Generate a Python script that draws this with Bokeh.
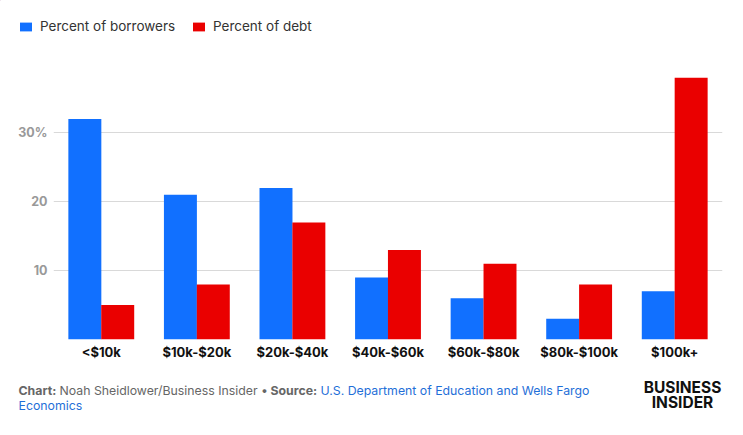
from bokeh.plotting import figure
from bokeh.models import ColumnDataSource, FactorRange, Range1d, FixedTicker, Label, Legend, LegendItem
from bokeh.layouts import column
from bokeh.transform import dodge
from bokeh.embed import file_html
from bokeh.resources import INLINE

categories = ["<$10k", "$10k-$20k", "$20k-$40k", "$40k-$60k", "$60k-$80k", "$80k-$100k", "$100k+"]
borrowers = [32, 21, 22, 9, 6, 3, 7]
debt = [5, 8, 17, 13, 11, 8, 38]
y_ticks = [0, 10, 20, 30]
y_tick_labels = {0: "", 10: "10", 20: "20", 30: "30%"}
series_names = ["Percent of borrowers", "Percent of debt"]

BLUE = "#1170FF"
RED = "#EA0000"
FONT = "Inter"
W = 735

def blank(height):
    f = figure(width=W, height=height, x_range=Range1d(0, W), y_range=Range1d(height, 0),
               x_axis_type=None, y_axis_type=None, output_backend="svg", toolbar_location=None,
               min_border=0, min_border_left=0, min_border_right=0, min_border_top=0,
               min_border_bottom=0, frame_align=False)
    f.outline_line_color = None
    f.grid.visible = False
    return f

# ---- header with legend
H_HEAD = 50
head = blank(H_HEAD)
d1 = head.vbar(x=[-500], top=[-500], bottom=[-500], width=1, color=BLUE, line_color=None)
d2 = head.vbar(x=[-500], top=[-500], bottom=[-500], width=1, color=RED, line_color=None)
for rend, lab, xloc in [(d1, series_names[0], 18), (d2, series_names[1], 191)]:
    lg = Legend(items=[LegendItem(label=lab, renderers=[rend])], location=(xloc, 16),
                orientation="horizontal", glyph_width=15, glyph_height=11,
                label_height=11, label_standoff=7, padding=0, margin=0, spacing=0,
                border_line_color=None, background_fill_alpha=0,
                label_text_font=FONT, label_text_font_size="13.5px",
                label_text_color="#333333", label_text_baseline="middle")
    head.add_layout(lg, "center")

# ---- main chart
src = ColumnDataSource(dict(cat=categories, borrowers=borrowers, debt=debt))
p = figure(width=W, height=320, x_range=FactorRange(*categories, range_padding=0),
           y_range=Range1d(0, 40.5), output_backend="svg", toolbar_location=None,
           min_border_left=53, min_border_right=W - 722, min_border_top=10, min_border_bottom=31,
           frame_align=False)
p.outline_line_color = None

p.vbar(x=dodge("cat", -0.172, range=p.x_range), top="borrowers", width=0.345,
       source=src, color=BLUE, line_color=None)
p.vbar(x=dodge("cat", 0.172, range=p.x_range), top="debt", width=0.345,
       source=src, color=RED, line_color=None)

p.xgrid.grid_line_color = None
p.ygrid.grid_line_color = "#d9d9d9"
p.ygrid.ticker = FixedTicker(ticks=y_ticks)

p.yaxis.ticker = FixedTicker(ticks=y_ticks)
p.yaxis.major_label_overrides = y_tick_labels
p.yaxis.axis_line_color = None
p.yaxis.major_tick_line_color = None
p.yaxis.minor_tick_line_color = None
p.yaxis.major_tick_out = 0
p.yaxis.major_tick_in = 0
p.yaxis.minor_tick_out = 0
p.yaxis.major_label_text_font = FONT
p.yaxis.major_label_text_font_style = "bold"
p.yaxis.major_label_text_font_size = "12.5px"
p.yaxis.major_label_text_color = "#999999"
p.yaxis.major_label_standoff = 6

p.xaxis.axis_line_color = None
p.xaxis.major_tick_line_color = None
p.xaxis.minor_tick_line_color = None
p.xaxis.major_tick_out = 0
p.xaxis.major_tick_in = 0
p.xaxis.minor_tick_out = 0
p.xaxis.major_label_text_font = FONT
p.xaxis.major_label_text_font_style = "bold"
p.xaxis.major_label_text_font_size = "13px"
p.xaxis.major_label_text_color = "#111111"
p.xaxis.major_label_standoff = 4

# ---- footer
H_FOOT = 57
foot = blank(H_FOOT)

def lbl(x, y, text, color="#666666", style="normal", size="12.3px", align="left"):
    foot.add_layout(Label(x=x, y=y, text=text, text_font=FONT, text_font_size=size,
                          text_color=color, text_font_style=style,
                          text_baseline="middle", text_align=align))

lbl(18, 19.5, "Chart:", style="bold")
lbl(59, 19.5, "Noah Sheidlower/Business Insider \u2022")
lbl(270, 19.5, "Source:", style="bold")
lbl(320, 19.5, "U.S. Department of Education and Wells Fargo", color="#1F6FD8")
lbl(18, 35, "Economics", color="#1F6FD8")

lbl(682, 17, "BUSINESS", color="#111111", style="bold", size="15.5px", align="center")
lbl(682, 32, "INSIDER", color="#111111", style="bold", size="15.5px", align="center")

layout = column(head, p, foot, spacing=0)
open("out.html", "w").write(file_html(layout, INLINE))
